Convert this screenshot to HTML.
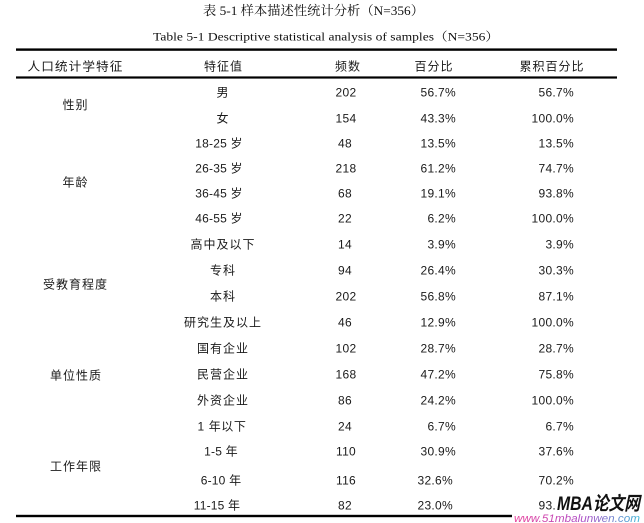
<!DOCTYPE html>
<html>
<head>
<meta charset="utf-8">
<style>
html,body{margin:0;padding:0;background:#fff;}
body{width:644px;height:523px;overflow:hidden;}
svg{display:block;}
.t{font-family:"Liberation Serif","Noto Serif CJK SC",serif;fill:#111;}
.b{font-family:"Liberation Sans","Noto Sans CJK SC",sans-serif;font-size:12px;fill:#1a1a1a;}
.c{letter-spacing:1px;}
.d{letter-spacing:0.2px;}
.e{letter-spacing:0.6px;}
.n{letter-spacing:0.3px;}
</style>
</head>
<body>
<svg width="644" height="523" viewBox="0 0 644 523" xmlns="http://www.w3.org/2000/svg">
<defs>
<linearGradient id="g" x1="0" y1="0" x2="1" y2="0">
<stop offset="0" stop-color="#e8409a"/>
<stop offset="0.55" stop-color="#b050c8"/>
<stop offset="1" stop-color="#40b8d8"/>
</linearGradient>
</defs>
<rect width="644" height="523" fill="#fff"/>

<!-- titles -->
<text class="t" x="203" y="15" font-size="13" textLength="221" lengthAdjust="spacingAndGlyphs">表 5-1 样本描述性统计分析（N=356）</text>
<text class="t" x="153" y="40.5" font-size="12" textLength="346" lengthAdjust="spacingAndGlyphs">Table 5-1 Descriptive statistical analysis of samples（N=356）</text>

<!-- rules -->
<rect x="16" y="48.4" width="601" height="2.4" fill="#000"/>
<rect x="16" y="76.4" width="601" height="2.2" fill="#000"/>
<rect x="16" y="514.8" width="601" height="2.4" fill="#000"/>

<!-- header -->
<g class="b c" text-anchor="middle">
<text x="75.5" y="70.5" textLength="96" lengthAdjust="spacingAndGlyphs">人口统计学特征</text>
<text x="223.5" y="70.5">特征值</text>
<text x="348" y="70.5">频数</text>
<text x="434" y="70.5">百分比</text>
<text x="552" y="70.5">累积百分比</text>
</g>

<!-- group labels -->
<g class="b c" text-anchor="middle">
<text x="75.5" y="109">性别</text>
<text x="75.5" y="186.5">年龄</text>
<text x="75.5" y="288.5">受教育程度</text>
<text x="76" y="379.5">单位性质</text>
<text x="76" y="470.5">工作年限</text>
</g>

<!-- column 2 -->
<g class="b" text-anchor="middle">
<text class="c" x="223" y="96.5">男</text>
<text class="c" x="223" y="122.5">女</text>
<text class="d" x="219" y="147.5">18-25 岁</text>
<text class="d" x="219" y="172.5">26-35 岁</text>
<text class="d" x="219" y="197.5">36-45 岁</text>
<text class="d" x="219" y="222.5">46-55 岁</text>
<text class="c" x="223" y="248.5">高中及以下</text>
<text class="c" x="223" y="274.5">专科</text>
<text class="c" x="223" y="300.5">本科</text>
<text class="c" x="223" y="326.5">研究生及以上</text>
<text class="c" x="223" y="352.5">国有企业</text>
<text class="c" x="223" y="378.5">民营企业</text>
<text class="c" x="223" y="404.5">外资企业</text>
<text class="e" x="222" y="430.5">1 年以下</text>
<text class="d" x="221" y="455.5">1-5 年</text>
<text class="d" x="221" y="484.5">6-10 年</text>
<text class="d" x="217" y="509.5">11-15 年</text>
</g>

<!-- column 3 -->
<g class="b n" text-anchor="middle">
<text x="346" y="96.5">202</text>
<text x="346" y="122.5">154</text>
<text x="345" y="147.5">48</text>
<text x="346" y="172.5">218</text>
<text x="345" y="197.5">68</text>
<text x="345" y="222.5">22</text>
<text x="345" y="248.5">14</text>
<text x="345" y="274.5">94</text>
<text x="346" y="300.5">202</text>
<text x="345" y="326.5">46</text>
<text x="346" y="352.5">102</text>
<text x="346" y="378.5">168</text>
<text x="345" y="404.5">86</text>
<text x="345" y="430.5">24</text>
<text x="346" y="455.5">110</text>
<text x="346" y="484.5">116</text>
<text x="345" y="509.5">82</text>
</g>

<!-- column 4 -->
<g class="b n" text-anchor="end">
<text x="456" y="96.5">56.7%</text>
<text x="456" y="122.5">43.3%</text>
<text x="456" y="147.5">13.5%</text>
<text x="456" y="172.5">61.2%</text>
<text x="456" y="197.5">19.1%</text>
<text x="456" y="222.5">6.2%</text>
<text x="456" y="248.5">3.9%</text>
<text x="456" y="274.5">26.4%</text>
<text x="456" y="300.5">56.8%</text>
<text x="456" y="326.5">12.9%</text>
<text x="456" y="352.5">28.7%</text>
<text x="456" y="378.5">47.2%</text>
<text x="456" y="404.5">24.2%</text>
<text x="456" y="430.5">6.7%</text>
<text x="456" y="455.5">30.9%</text>
<text x="453" y="484.5">32.6%</text>
<text x="453" y="509.5">23.0%</text>
</g>

<!-- column 5 -->
<g class="b n" text-anchor="end">
<text x="574" y="96.5">56.7%</text>
<text x="574" y="122.5">100.0%</text>
<text x="574" y="147.5">13.5%</text>
<text x="574" y="172.5">74.7%</text>
<text x="574" y="197.5">93.8%</text>
<text x="574" y="222.5">100.0%</text>
<text x="574" y="248.5">3.9%</text>
<text x="574" y="274.5">30.3%</text>
<text x="574" y="300.5">87.1%</text>
<text x="574" y="326.5">100.0%</text>
<text x="574" y="352.5">28.7%</text>
<text x="574" y="378.5">75.8%</text>
<text x="574" y="404.5">100.0%</text>
<text x="574" y="430.5">6.7%</text>
<text x="574" y="455.5">37.6%</text>
<text x="574" y="484.5">70.2%</text>
<text x="574" y="509.5">93.7%</text>
</g>

<!-- watermark -->
<rect x="556" y="492" width="88" height="22" fill="#fff"/>
<rect x="512" y="513" width="132" height="10" fill="#fff"/>
<text x="557" y="510" font-size="19" font-weight="bold" font-style="italic" fill="#111" textLength="83" lengthAdjust="spacingAndGlyphs" style="font-family:'Liberation Sans','Noto Sans CJK SC',sans-serif;">MBA论文网</text>
<text x="514" y="522" font-size="11" font-style="italic" fill="url(#g)" textLength="126" lengthAdjust="spacingAndGlyphs" style="font-family:'Liberation Sans',sans-serif;">www.51mbalunwen.com</text>
</svg>
</body>
</html>
